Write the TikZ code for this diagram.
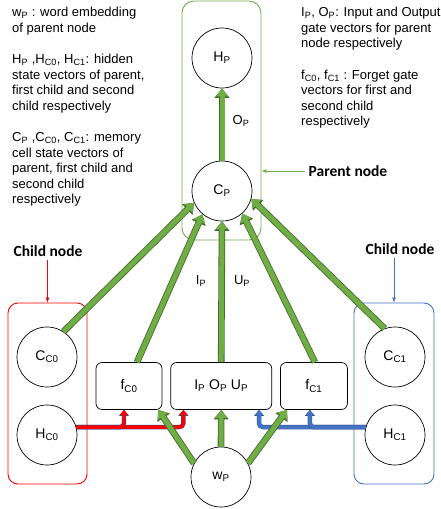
\documentclass[tikz,border=0pt]{standalone}
\usepackage{fontspec}
\setmainfont{Liberation Sans}
\newfontfamily\calibri{Carlito}
\usepackage{tikz}
\usetikzlibrary{positioning,chains,fit,calc}
\usetikzlibrary{arrows.meta}
\definecolor{flowgreen}{RGB}{112,173,71}
\definecolor{flowdark}{RGB}{66,104,40}
\definecolor{childblue}{RGB}{68,114,196}
\definecolor{edgeblue}{RGB}{47,82,143}
\newcommand{\vsub}[2]{#1\textsubscript{#2}}

\begin{document}
\begin{tikzpicture}[
          x=1pt,y=-1pt,
          cellnode/.style={circle,draw,line width=0.7pt,minimum size=60pt,inner sep=0pt,font=\fontsize{14}{16}\selectfont},
          gatenode/.style={draw,line width=0.7pt,rounded corners=6pt,minimum height=47pt,inner sep=0pt,font=\fontsize{14}{16}\selectfont},
          groupbox/.style={line width=0.9pt,rounded corners=10pt,inner sep=0pt},
          note/.style={align=left,anchor=north west,inner sep=0pt,font=\fontsize{13}{15.5}\selectfont},
          boxlabel/.style={font=\calibri\bfseries\fontsize{15.5}{18}\selectfont},
          flowlabel/.style={font=\fontsize{13}{15}\selectfont},
          flow/.style={draw=flowgreen,line width=5pt,-{Triangle[width=12pt,length=8pt]},
            preaction={draw=flowdark,line width=6.6pt,-{Triangle[width=14.5pt,length=9.5pt]}}},
          feed/.style={line width=3.4pt,rounded corners=4pt,-{Triangle[width=8pt,length=5pt]},
            preaction={draw=edgeblue,line width=4.4pt,-{Triangle[width=9.5pt,length=6pt]}}},
          pointer/.style={line width=0.7pt,-{Latex[length=5pt,width=4pt]}}
          ]
          \useasboundingbox (0,0) rectangle (441,509);
          % the legend texts
          \node[note] (keyleft) at (12,7) {\vsub{w}{P} : word embedding\\of parent node\\[16pt]
            \vsub{H}{P} ,\vsub{H}{C0}, \vsub{H}{C1}: hidden\\state vectors of parent,\\first child and second\\child respectively\\[16pt]
            \vsub{C}{P} ,\vsub{C}{C0}, \vsub{C}{C1}: memory\\cell state vectors of\\parent, first child and\\second child\\respectively};
          \node[note] (keyright) at (301,7) {\vsub{I}{P}, \vsub{O}{P}: Input and Output\\gate vectors for parent\\node respectively\\[16pt]
            \vsub{f}{C0}, \vsub{f}{C1} : Forget gate\\vectors for first and\\second child\\respectively};
          % the cells
          \node[cellnode] (hp) at (222,58) {\vsub{H}{P}};
          \node[cellnode] (cp) at (222,191) {\vsub{C}{P}};
          \node[cellnode] (cc0) at (47,357) {\vsub{C}{C0}};
          \node[cellnode] (hc0) at (47,435) {\vsub{H}{C0}};
          \node[cellnode] (cc1) at (395,357) {\vsub{C}{C1}};
          \node[cellnode] (hc1) at (395,435) {\vsub{H}{C1}};
          \node[cellnode] (wp) at (221,477) {\vsub{w}{P}};
          % the gates
          \begin{scope}[start chain=going right,node distance=8pt,shift={(129,386)}]
            \foreach \g/\w/\txt in {fc0/66/{\vsub{f}{C0}},iou/101/{\vsub{I}{P} \vsub{O}{P} \vsub{U}{P}},fc1/67/{\vsub{f}{C1}}}
            \node[gatenode,on chain,minimum width=\w pt] (\g) {\txt};
          \end{scope}
          % the node boxes
          \node[groupbox,draw=flowgreen,rounded corners=12pt,fit={(182,1) (261,240)}] (pbox) {};
          \node[groupbox,draw=red,fit={(8,303) (87,484)}] (cbox0) {};
          \node[groupbox,draw=childblue,fit={(354,303) (434,484)}] (cbox1) {};
          \node[boxlabel] (plabel) at (348,171) {Parent node};
          \node[boxlabel] (clabel0) at (48,251) {Child node};
          \node[boxlabel] (clabel1) at (400,249) {Child node};
          \draw[pointer,flowgreen] (plabel.west) -- (plabel.west -| pbox.east);
          \draw[pointer,red] (clabel0.south -| cbox0.north) -- (cbox0.north);
          \draw[pointer,childblue] (clabel1.south -| cbox1.north) -- (cbox1.north);
          % the hidden states feeding the gates
          \draw[feed,red] (hc0.15) -| ([xshift=13pt]iou.south west);
          \draw[feed,red] (hc0.15) -| ([xshift=-5pt]fc0.south);
          \draw[feed,childblue] (hc1.165) -| ([xshift=-13pt]iou.south east);
          \draw[feed,childblue] (hc1.165) -| ([xshift=-4pt]fc1.south);
          % the green flows
          \draw[flow] (cp.north) -- (hp.south);
          \draw[flow] (cc0.57) -- (cp.203);
          \draw[flow] ([xshift=8pt]fc0.north) -- (cp.230);
          \draw[flow] (iou.north) -- (cp.south);
          \draw[flow] ([xshift=1pt]fc1.north) -- (cp.312);
          \draw[flow] (cc1.110) -- (cp.345);
          \draw[flow] (wp.153) -- ([xshift=-4pt]fc0.south east);
          \draw[flow] (wp.north) -- (iou.south);
          \draw[flow] (wp.27) -- ([xshift=7pt]fc1.south west);
          % the flow labels
          \node[flowlabel] (oplabel) at (241,121) {\vsub{O}{P}};
          \node[flowlabel] (iplabel) at (201,281) {\vsub{I}{P}};
          \node[flowlabel] (uplabel) at (242,281) {\vsub{U}{P}};
        \end{tikzpicture}
\end{document}
